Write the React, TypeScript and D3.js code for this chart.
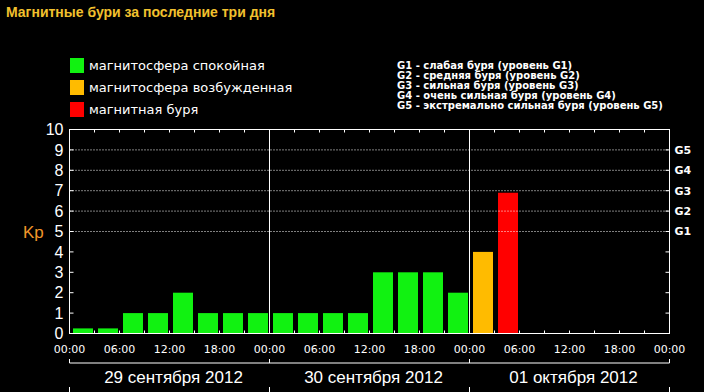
import React from 'react'
import { scaleUtc, scaleLinear, range, utcHour } from 'd3'

// Kp index, one value per 3-hour slot, starting 29 Sep 2012 00:00 UTC
const kpValues = [0.25, 0.25, 1, 1, 2, 1, 1, 1, 1, 1, 1, 1, 3, 3, 3, 2, 4, 6.9]
const dayLabels = ['29 сентября 2012', '30 сентября 2012', '01 октября 2012']
const hourLabels = ['00:00', '06:00', '12:00', '18:00']
const yTicks = [0, 1, 2, 3, 4, 5, 6, 7, 8, 9, 10]
const gLevels = ['G1', 'G2', 'G3', 'G4', 'G5']
const gLevelKp = [5, 6, 7, 8, 9]
const legendItems = ['магнитосфера спокойная', 'магнитосфера возбужденная', 'магнитная буря']
const legendColors = ['#11f211', '#ffbb00', '#ff0000']
const gDescriptions = [
  'G1 - слабая буря (уровень G1)',
  'G2 - средняя буря (уровень G2)',
  'G3 - сильная буря (уровень G3)',
  'G4 - очень сильная буря (уровень G4)',
  'G5 - экстремально сильная буря (уровень G5)',
]

const start = new Date(Date.UTC(2012, 8, 29))
const end = new Date(Date.UTC(2012, 9, 2))

const barColor = (v: number) => (v >= 5 ? legendColors[2] : v >= 4 ? legendColors[1] : legendColors[0])

export default function App() {
  const width = 704
  const height = 392
  const margin = { top: 129.5, right: 34.5, bottom: 58.5, left: 69.5 }

  const x = scaleUtc().domain([start, end]).range([margin.left, width - margin.right])
  const y = scaleLinear().domain([0, 10]).range([height - margin.bottom, margin.top])

  const slots = utcHour.every(3)!.range(start, end)
  const days = utcHour.every(24)!.range(start, new Date(+end + 1))
  const labelHours = utcHour.every(6)!.range(start, new Date(+end + 1))
  const bars = kpValues.map((v, i) => ({ t: slots[i], v }))

  const x0 = x.range()[0]
  const x1 = x.range()[1]
  const yb = y(0)
  const yt = y(10)
  const slotW = x(slots[1]) - x(slots[0])
  const axisY = yb + 29.5
  const font = '"DejaVu Sans", Verdana, sans-serif'
  const lib = '"Liberation Sans", Arial, sans-serif'

  return (
    <svg
      width={width}
      height={height}
      style={{ position: 'fixed', left: 0, top: 0, background: '#000', display: 'block' }}
    >
      <rect x={0} y={0} width={width} height={height} fill="#000" />
      <text x={6} y={17} fill="#f2c12e" fontFamily={lib} fontWeight="bold" fontSize={14}>
        Магнитные бури за последние три дня
      </text>

      {legendItems.map((s, i) => (
        <g key={s} transform={`translate(70,${58 + i * 22})`}>
          <rect width={14} height={15} fill={legendColors[i]} />
          <text x={19} y={7.5} dy="0.35em" fill="#fff" fontFamily={font} fontSize={13}>
            {s}
          </text>
        </g>
      ))}
      {gDescriptions.map((s, i) => (
        <text key={s} x={397} y={65 + i * 10} dy="0.35em" fill="#fff" fontFamily={font} fontWeight="bold" fontSize={10}>
          {s}
        </text>
      ))}

      {/* bars */}
      {bars.map((d, i) => (
        <rect
          key={i}
          x={x(d.t) + 3.5}
          y={y(d.v)}
          width={slotW - 5}
          height={yb - y(d.v)}
          fill={barColor(d.v)}
        />
      ))}

      {/* storm-level grid */}
      {gLevelKp.map(v => (
        <line key={v} x1={x0} x2={x1} y1={y(v)} y2={y(v)} stroke="#fff" strokeDasharray="1,2" />
      ))}

      {/* day separators */}
      {days.slice(1, -1).map(d => (
        <line key={+d} x1={x(d)} x2={x(d)} y1={yt} y2={yb} stroke="#fff" />
      ))}

      <rect x={x0} y={yt} width={x1 - x0} height={yb - yt} fill="none" stroke="#fff" />

      {/* y ticks both sides */}
      {yTicks.slice(1, -1).map(v => (
        <g key={v}>
          <line x1={x0} x2={x0 + 4} y1={y(v)} y2={y(v)} stroke="#fff" />
          <line x1={x1} x2={x1 - 4} y1={y(v)} y2={y(v)} stroke="#fff" />
        </g>
      ))}
      {yTicks.map(v => (
        <text key={v} x={x0 - 6} y={y(v)} dy="0.36em" textAnchor="end" fill="#fff" fontFamily={lib} fontSize={16}>
          {v}
        </text>
      ))}
      <text x={23} y={y(5)} dy="0.36em" fill="#f0962a" fontFamily={lib} fontSize={17}>
        Kp
      </text>
      {gLevels.map((g, i) => (
        <text key={g} x={x1 + 5} y={y(gLevelKp[i])} dy="0.36em" fill="#fff" fontFamily={font} fontWeight="bold" fontSize={11}>
          {g}
        </text>
      ))}

      {/* 3h ticks top & bottom */}
      {slots.slice(1).map(t => (
        <g key={+t}>
          <line x1={x(t)} x2={x(t)} y1={yb} y2={yb - 3} stroke="#fff" />
          <line x1={x(t)} x2={x(t)} y1={yt} y2={yt + 3} stroke="#fff" />
        </g>
      ))}

      {labelHours.map((t, i) => (
        <text key={+t} x={x(t)} y={yb + 16} dy="0.35em" textAnchor="middle" fill="#fff" fontFamily={font} fontSize={11}>
          {hourLabels[i % 4]}
        </text>
      ))}

      {/* day axis */}
      <line x1={x0} x2={x1} y1={axisY} y2={axisY} stroke="#fff" />
      {days.map(d => (
        <g key={+d}>
          <line x1={x(d)} x2={x(d)} y1={axisY - 4} y2={axisY} stroke="#fff" />
          <line x1={x(d)} x2={x(d)} y1={axisY + 24} y2={axisY + 30} stroke="#fff" />
        </g>
      ))}
      {dayLabels.map((s, i) => (
        <text
          key={s}
          x={x(days[i]) + 100 * (slotW / 25) + 4}
          y={axisY + 14}
          dy="0.35em"
          textAnchor="middle"
          fill="#fff"
          fontFamily={lib}
          fontSize={17}
        >
          {s}
        </text>
      ))}
    </svg>
  )
}
